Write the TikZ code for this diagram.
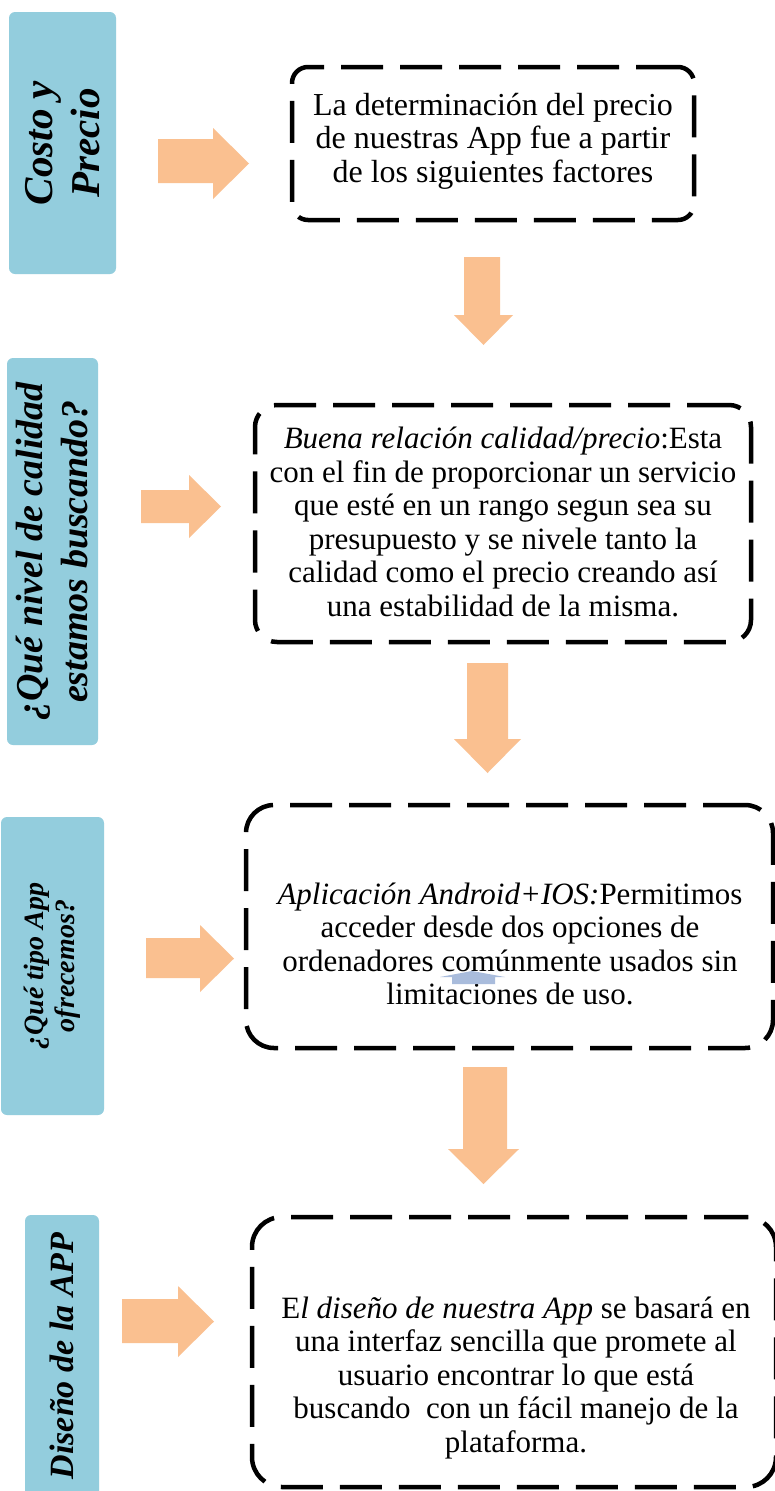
\documentclass[tikz,border=0pt]{standalone}
\usepackage{fontspec}
\setmainfont{Liberation Serif}
\definecolor{tabblue}{HTML}{93CDDD}
\definecolor{arroworange}{HTML}{FAC090}
\definecolor{markblue}{HTML}{A9BCDC}
\begin{document}
\begin{tikzpicture}[x=1pt,y=-1pt,
  tab/.style={rectangle, fill=tabblue, draw=none, rounded corners=6pt, rotate=90,
    inner sep=0pt, align=center},
  dbox/.style={rectangle, draw=black, line width=4.5pt, dash pattern=on 42pt off 17pt,
    inner sep=0pt},
  btext/.style={inner sep=0pt, align=center},
  blockarrow/.style={fill=arroworange, draw=none}]
\useasboundingbox (0,0) rectangle (775,1491);
\fill[white] (0,0) rectangle (775,1491);

% tabs
\node[tab, minimum width=262pt, minimum height=107pt,
  font={\fontsize{41}{47}\selectfont\bfseries\itshape}] (tab1) at (62.5,143)
  {Costo y\\Precio};
\node[tab, minimum width=387pt, minimum height=91pt,
  font={\fontsize{38}{45}\selectfont\bfseries\itshape}] (tab2) at (52.5,551.5)
  {¿Qué nivel de calidad\\estamos buscando?};
\node[tab, minimum width=298pt, minimum height=103pt,
  font={\fontsize{28}{31}\selectfont\bfseries\itshape}] (tab3) at (52.5,966)
  {¿Qué tipo App\\ofrecemos?};
\node[tab, minimum width=282pt, minimum height=74pt,
  font={\fontsize{34}{40}\selectfont\bfseries\itshape}] (tab4) at (62,1356)
  {Diseño de la APP};

% dashed boxes
\node[dbox, rounded corners=16pt, minimum width=402pt, minimum height=153pt] (box1) at (493,143.5) {};
\node[dbox, rounded corners=22pt, minimum width=496pt, minimum height=237pt] (box2) at (503,523.5) {};
\node[dbox, rounded corners=28pt, minimum width=527pt, minimum height=243pt] (box3) at (509.5,926.5) {};
\node[dbox, rounded corners=30pt, minimum width=524pt, minimum height=270pt] (box4) at (514,1352) {};

% texts
\node[btext, font={\fontsize{32}{33.5}\selectfont}] (t1) at (493,141)
  {La determinación del precio\\de nuestras App fue a partir\\de los siguientes factores};
\node[btext, font={\fontsize{31}{33.5}\selectfont}] (t2) at (503,522)
  {\textit{Buena relación calidad/precio}:Esta\\con el fin de proporcionar un servicio\\que esté en un rango segun sea su\\presupuesto y se nivele tanto la\\calidad como el precio creando así\\una estabilidad de la misma.};
\node[btext, font={\fontsize{31}{33.5}\selectfont}] (t3) at (510,944)
  {\textit{Aplicación Android+IOS:}Permitimos\\acceder desde dos opciones de\\ordenadores comúnmente usados sin\\limitaciones de uso.};
\node[btext, font={\fontsize{31}{33.5}\selectfont}] (t4) at (516,1378)
  {E\textit{l diseño de nuestra App} se basará en\\una interfaz sencilla que promete al\\usuario encontrar lo que está\\buscando\ \ con un fácil manejo de la\\plataforma.};

% small blue mark
\fill[markblue] (440,977) -- (472,971) -- (505,977) -- (495,977) -- (495,984) -- (452,984) -- (452,977) -- cycle;

% right block arrows
\fill[blockarrow] (158,139) -- (213,139) -- (213,128) -- (249,163.5) -- (213,199) -- (213,183) -- (158,183) -- cycle;
\fill[blockarrow] (141,490) -- (189,490) -- (189,475) -- (221,506.5) -- (189,538) -- (189,523) -- (141,523) -- cycle;
\fill[blockarrow] (146,938) -- (200,938) -- (200,925) -- (234,958.5) -- (200,992) -- (200,978) -- (146,978) -- cycle;
\fill[blockarrow] (122,1299) -- (178,1299) -- (178,1286) -- (214,1321.5) -- (178,1357) -- (178,1343) -- (122,1343) -- cycle;

% down block arrows
\fill[blockarrow] (464,257) -- (500,257) -- (500,315) -- (513,315) -- (483.5,345) -- (454,315) -- (464,315) -- cycle;
\fill[blockarrow] (467,663) -- (508,663) -- (508,739) -- (521,739) -- (487.5,773) -- (454,739) -- (467,739) -- cycle;
\fill[blockarrow] (463,1067) -- (507,1067) -- (507,1149) -- (519,1149) -- (483.5,1184) -- (448,1149) -- (463,1149) -- cycle;
\end{tikzpicture}
\end{document}
